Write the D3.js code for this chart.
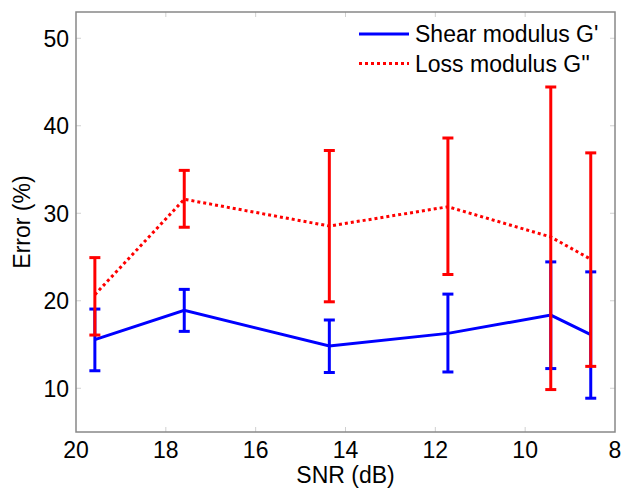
<!DOCTYPE html>
<html>
<head>
<script src="https://d3js.org/d3.v7.min.js"></script>
<style>
  body { margin: 0; background: #fff; }
  svg text { font-family: "Liberation Sans", Arial, sans-serif; fill: #000; }
</style>
</head>
<body>
<div id="graph"></div>
<script>
// SNR values (dB) for each measurement
const snr = [19.58, 17.59, 14.36, 11.72, 9.43, 8.54];

// Shear modulus G' : mean error, lower and upper bar ends (%)
const shearMean = [15.55, 18.9, 14.83, 16.27, 18.36, 16.12];
const shearLow  = [12.0, 16.5, 11.8, 11.86, 12.25, 8.86];
const shearHigh = [19.05, 21.3, 17.8, 20.76, 24.44, 23.3];

// Loss modulus G'' : mean error, lower and upper bar ends (%)
const lossMean = [20.7, 31.6, 28.54, 30.74, 27.29, 24.75];
const lossLow  = [16.08, 28.4, 19.88, 23.0, 9.85, 12.5];
const lossHigh = [24.93, 34.9, 37.17, 38.6, 44.43, 36.9];

const xTicks = [20, 18, 16, 14, 12, 10, 8];
const yTicks = [10, 20, 30, 40, 50];
const seriesNames = ["Shear modulus G'", "Loss modulus G''"];

const W = 623, H = 489;
const margin = { top: 12, right: 8, bottom: 57, left: 76 };
const width = W - margin.left - margin.right;
const height = H - margin.top - margin.bottom;
const fs = "23px";

const svg = d3.select("#graph").append("svg")
  .attr("width", W)
  .attr("height", H);

const g = svg.append("g")
  .attr("transform", `translate(${margin.left},${margin.top})`);

const x = d3.scaleLinear().domain([20, 8]).range([0, width]);
const y = d3.scaleLinear().domain([5, 53]).range([height, 0]);

// inward tick marks on all four sides
const tickCol = "#d0d0d0";
g.append("g").selectAll("line.xt")
  .data(xTicks.slice(1, -1))
  .join("line")
  .attr("x1", d => x(d)).attr("x2", d => x(d))
  .attr("y1", height).attr("y2", height - 5)
  .attr("stroke", tickCol);
g.append("g").selectAll("line.xt2")
  .data(xTicks.slice(1, -1))
  .join("line")
  .attr("x1", d => x(d)).attr("x2", d => x(d))
  .attr("y1", 0).attr("y2", 5)
  .attr("stroke", tickCol);
g.append("g").selectAll("line.yt")
  .data(yTicks)
  .join("line")
  .attr("x1", 0).attr("x2", 5)
  .attr("y1", d => y(d)).attr("y2", d => y(d))
  .attr("stroke", tickCol);
g.append("g").selectAll("line.yt2")
  .data(yTicks)
  .join("line")
  .attr("x1", width).attr("x2", width - 5)
  .attr("y1", d => y(d)).attr("y2", d => y(d))
  .attr("stroke", tickCol);

// frame
g.append("rect")
  .attr("x", 0).attr("y", 0)
  .attr("width", width).attr("height", height)
  .attr("fill", "none")
  .attr("stroke", "#888")
  .attr("stroke-width", 1.5);

// tick labels
g.append("g").selectAll("text")
  .data(xTicks)
  .join("text")
  .attr("x", d => x(d))
  .attr("y", height + 26)
  .attr("text-anchor", "middle")
  .style("font-size", fs)
  .text(d => d);

g.append("g").selectAll("text")
  .data(yTicks)
  .join("text")
  .attr("x", -7)
  .attr("y", d => y(d))
  .attr("dy", "0.36em")
  .attr("text-anchor", "end")
  .style("font-size", fs)
  .text(d => d);

// axis titles
svg.append("text")
  .attr("x", margin.left + width / 2)
  .attr("y", 483)
  .attr("text-anchor", "middle")
  .style("font-size", fs)
  .text("SNR (dB)");

svg.append("text")
  .attr("transform", `translate(30,222) rotate(-90)`)
  .attr("text-anchor", "middle")
  .style("font-size", fs)
  .text("Error (%)");

function drawSeries(mean, low, high, color, dash) {
  const pts = snr.map((s, i) => ({ s, m: mean[i], lo: low[i], hi: high[i] }));
  const line = d3.line().x(d => x(d.s)).y(d => y(d.m));
  g.append("path")
    .datum(pts)
    .attr("d", line)
    .attr("fill", "none")
    .attr("stroke", color)
    .attr("stroke-width", 3)
    .attr("stroke-dasharray", dash);

  const bars = g.append("g").attr("stroke", color).attr("stroke-width", 3);
  bars.selectAll("line.v")
    .data(pts).join("line")
    .attr("x1", d => x(d.s)).attr("x2", d => x(d.s))
    .attr("y1", d => y(d.lo)).attr("y2", d => y(d.hi));
  bars.selectAll("line.lo")
    .data(pts).join("line")
    .attr("x1", d => x(d.s) - 5.5).attr("x2", d => x(d.s) + 5.5)
    .attr("y1", d => y(d.lo)).attr("y2", d => y(d.lo));
  bars.selectAll("line.hi")
    .data(pts).join("line")
    .attr("x1", d => x(d.s) - 5.5).attr("x2", d => x(d.s) + 5.5)
    .attr("y1", d => y(d.hi)).attr("y2", d => y(d.hi));
}

drawSeries(shearMean, shearLow, shearHigh, "#0000ff", null);
drawSeries(lossMean, lossLow, lossHigh, "#ff0000", "3,3");

// legend
const legend = svg.append("g").attr("transform", "translate(359,34)");
const legendStyle = [{ c: "#0000ff", d: null }, { c: "#ff0000", d: "3,3" }];
seriesNames.forEach((name, i) => {
  const row = legend.append("g").attr("transform", `translate(0,${i * 29.5})`);
  row.append("line")
    .attr("x1", 0).attr("x2", 50)
    .attr("stroke", legendStyle[i].c)
    .attr("stroke-width", 3)
    .attr("stroke-dasharray", legendStyle[i].d);
  row.append("text")
    .attr("x", 56)
    .attr("dy", "0.36em")
    .style("font-size", fs)
    .text(name);
});
</script>
</body>
</html>
